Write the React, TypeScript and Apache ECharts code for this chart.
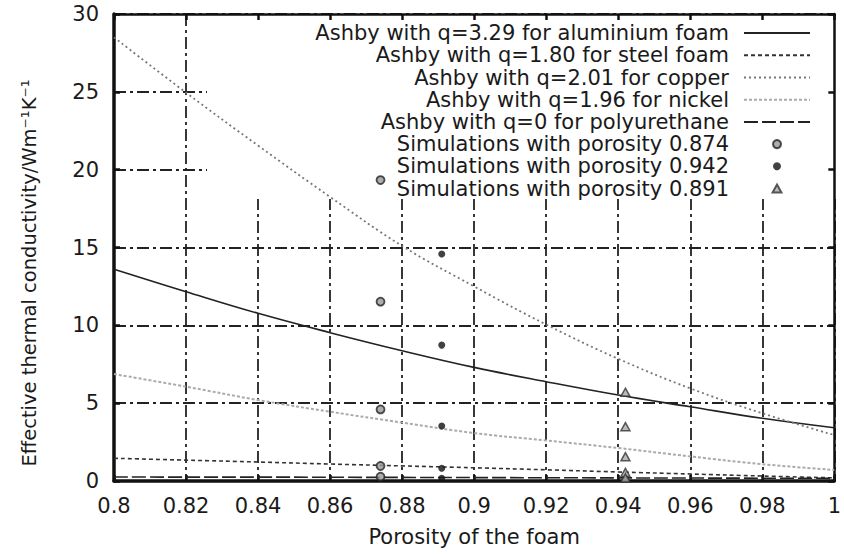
import React, { useEffect, useRef } from "react";
import * as echarts from "echarts";

const porosity = [0.8, 0.82, 0.84, 0.86, 0.88, 0.9, 0.92, 0.94, 0.96, 0.98, 1.0];
// Ashby curves (W m^-1 K^-1)
const aluminium = [13.6, 12.16, 10.77, 9.53, 8.37, 7.3, 6.38, 5.52, 4.77, 4.03, 3.42];
const steel = [1.46, 1.34, 1.22, 1.09, 0.97, 0.85, 0.72, 0.58, 0.45, 0.32, 0.2];
const copper = [28.5, 24.95, 21.55, 18.25, 15.1, 12.5, 10.05, 7.85, 5.95, 4.35, 2.95];
const nickel = [6.87, 6.06, 5.2, 4.45, 3.75, 3.08, 2.6, 2.12, 1.58, 1.08, 0.71];
const polyurethane = [0.26, 0.25, 0.25, 0.24, 0.23, 0.22, 0.21, 0.2, 0.19, 0.18, 0.17];

// Simulation points
const simAX = 0.874;
const simA = [19.33, 11.52, 4.6, 0.96, 0.28]; // legend: porosity 0.874
const simBX = 0.891;
const simB = [14.58, 8.73, 3.53, 0.82, 0.17]; // legend: porosity 0.942
const simCX = 0.942;
const simC = [5.7, 3.49, 1.56, 0.55, 0.2]; // legend: porosity 0.891

const names = [
  "Ashby with q=3.29 for aluminium foam",
  "Ashby with q=1.80 for steel foam",
  "Ashby with q=2.01 for copper",
  "Ashby with q=1.96 for nickel",
  "Ashby with q=0 for polyurethane",
  "Simulations with porosity 0.874",
  "Simulations with porosity 0.942",
  "Simulations with porosity 0.891",
];

const FONT = "DejaVu Sans";
const TRIANGLE = "path://M5,0 L10,9 L0,9 Z";

export default function App() {
  const ref = useRef<HTMLDivElement>(null);
  useEffect(() => {
    document.body.style.margin = "0";
    const chart = echarts.init(ref.current!, null, { renderer: "svg" });
    const pairs = (ys: number[]) => porosity.map((x, i) => [x, ys[i]]);
    const pts = (x: number, ys: number[]) => ys.map((y) => [x, y]);
    const lineSeries = (name: string, ys: number[], color: string, type: any, width: number) => ({
      name,
      type: "line",
      data: pairs(ys),
      smooth: 0.4,
      symbol: "none",
      z: 3,
      lineStyle: { color, type, width },
      itemStyle: { color },
    });
    const gridDash = [12, 4, 3, 4];
    const tickFmt = (v: number) => String(+Number(v).toFixed(2));
    const hiddenSymbol = { color: "rgba(0,0,0,0)", borderColor: "rgba(0,0,0,0)", borderWidth: 0, opacity: 0 };
    const legendData = names.map((n, i) => (i < 5 ? { name: n, itemStyle: hiddenSymbol } : { name: n }));
    const option: any = {
      animation: false,
      backgroundColor: "#fff",
      grid: { left: 114, top: 14, right: 5, bottom: 73, show: false },
      graphic: [
        {
          type: "rect",
          z: 1,
          shape: { x: 207, y: 16, width: 631, height: 183 },
          style: { fill: "#fff" },
          silent: true,
        },
      ],
      legend: {
        orient: "vertical",
        align: "right",
        right: 28,
        top: 17,
        itemWidth: 66,
        itemHeight: 8,
        itemGap: 0,
        selectedMode: false,
        textStyle: {
          fontFamily: FONT,
          fontSize: 21,
          color: "#1a1a1a",
          lineHeight: 22.2,
          padding: [0, 10, 0, 0],
        },
        data: legendData,
      },
      xAxis: [
        {
          type: "value",
          min: 0.8,
          max: 1.0,
          interval: 0.02,
          position: "bottom",
          name: "Porosity of the foam",
          nameLocation: "middle",
          nameGap: 45,
          nameTextStyle: { fontFamily: FONT, fontSize: 21, color: "#1a1a1a" },
          axisLine: { show: true, onZero: false, lineStyle: { color: "#111", width: 3.5 } },
          axisTick: { show: true, inside: true, length: 6, lineStyle: { color: "#111", width: 2.5 } },
          axisLabel: {
            fontFamily: FONT,
            fontSize: 21,
            color: "#1a1a1a",
            margin: 14,
            showMinLabel: true,
            showMaxLabel: true,
            formatter: tickFmt,
          },
          splitLine: { show: true, lineStyle: { color: "#222", width: 1.8, type: gridDash } },
        },
        {
          type: "value",
          min: 0.8,
          max: 1.0,
          interval: 0.02,
          position: "top",
          z: 3,
          axisLine: { show: true, onZero: false, lineStyle: { color: "#111", width: 2.5 } },
          axisTick: { show: true, inside: true, length: 6, lineStyle: { color: "#111", width: 2.5 } },
          axisLabel: { show: false },
          splitLine: { show: false },
        },
      ],
      yAxis: [
        {
          type: "value",
          min: 0,
          max: 30,
          interval: 5,
          position: "left",
          name: "Effective thermal conductivity/Wm\u207B\u00B9K\u207B\u00B9",
          nameLocation: "middle",
          nameGap: 75,
          nameTextStyle: {
            fontFamily: FONT,
            fontSize: 19.5,
            color: "#1a1a1a",
            padding: [0, 51, 0, 0],
          },
          axisLine: { show: true, onZero: false, lineStyle: { color: "#111", width: 3.5 } },
          axisTick: { show: true, inside: true, length: 6, lineStyle: { color: "#111", width: 2.5 } },
          axisLabel: {
            fontFamily: FONT,
            fontSize: 21,
            color: "#1a1a1a",
            margin: 15,
            showMinLabel: true,
            showMaxLabel: true,
          },
          splitLine: { show: true, lineStyle: { color: "#222", width: 1.8, type: gridDash } },
        },
        {
          type: "value",
          min: 0,
          max: 30,
          interval: 5,
          position: "right",
          z: 3,
          axisLine: { show: true, onZero: false, lineStyle: { color: "#111", width: 2.5 } },
          axisTick: { show: true, inside: true, length: 6, lineStyle: { color: "#111", width: 2.5 } },
          axisLabel: { show: false },
          splitLine: { show: false },
        },
      ],
      series: [
        lineSeries(names[0], aluminium, "#222", "solid", 1.6),
        lineSeries(names[1], steel, "#333", [4, 3], 1.6),
        lineSeries(names[2], copper, "#777", [2, 3], 1.8),
        lineSeries(names[3], nickel, "#aaa", [3, 2], 2),
        lineSeries(names[4], polyurethane, "#222", [14, 4], 1.6),
        {
          name: names[5],
          type: "scatter",
          z: 4,
          symbol: "circle",
          symbolSize: 8,
          data: pts(simAX, simA),
          itemStyle: { color: "#999", borderColor: "#222", borderWidth: 1.8 },
        },
        {
          name: names[6],
          type: "scatter",
          z: 4,
          symbol: "circle",
          symbolSize: 7,
          data: pts(simBX, simB),
          itemStyle: { color: "#111" },
        },
        {
          name: names[7],
          type: "scatter",
          z: 4,
          symbol: TRIANGLE,
          symbolKeepAspect: true,
          symbolSize: 9,
          data: pts(simCX, simC),
          itemStyle: { color: "#aaa", borderColor: "#333", borderWidth: 1.5 },
        },
      ],
    };
    chart.setOption(option);
    return () => chart.dispose();
  }, []);
  return <div ref={ref} style={{ width: 844, height: 554 }} />;
}
